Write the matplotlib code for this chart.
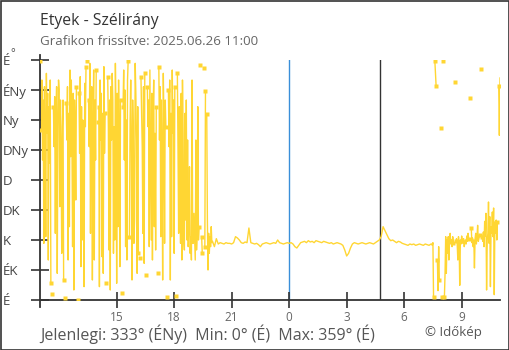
import numpy as np
import pandas as pd
import matplotlib
matplotlib.use('Agg')
import matplotlib.pyplot as plt
from matplotlib.patches import Rectangle

plt.rcParams['font.family'] = ['Open Sans', 'DejaVu Sans']

W, H = 510, 350

STATION = 'Etyek'
UPDATED = '2025.06.26 11:00'

DIR_NAMES = ['É', 'ÉK', 'K', 'DK', 'D', 'DNy', 'Ny', 'ÉNy', 'É']
DIR_DEG = [0, 45, 90, 135, 180, 225, 270, 315, 360]
HOUR_TICKS = [15, 18, 21, 0, 3, 6, 9]

# wind direction in degrees, None = no reading
# 2025.06.25 11:00 - 19:58, every 2 min
afternoon_deg = [
    358, None, 255, 330, 210, 300, 85, 320, 240, 95,
    340, 250, 310, 60, 290, 205, 330, 25, None, 9,
    None, 290, 230, 305, 100, 280, 320, 40, 260, 330,
    315, 140, 300, 220, 70, 260, 300, 30, None, 3,
    None, 295, 240, 320, 60, 280, 110, 345, 215, 330,
    240, 80, 310, 15, 300, 250, 150, 320, None, 0,
    None, 310, 220, 335, 50, 290, 90, 270, 200, 20,
    325, 260, 350, None, 358, None, 300, 230, 355, 100,
    275, 320, 30, 250, 345, 60, 300, 210, 345, None,
    267, None, 290, 20, 330, 240, 310, 65, 280, 40,
    350, 220, 280, None, 25, None, 335, 260, 75, 300,
    15, 320, 240, 340, 300, 70, 260, 90, 355, 280,
    25, 310, 110, 330, 230, 50, 300, None, 10, None,
    290, 345, 210, 315, 80, 270, 60, 330, 359, None,
    95, 270, 330, 220, 30, 300, 250, 85, 120, 355,
    310, 240, 40, 290, 70, None, 63, None, 335, 280,
    230, 100, 320, 55, 340, None, 37, None, 320, 260,
    300, 80, 345, 220, 90, 310, 60, 280, 330, 110,
    250, 75, 290, None, 40, None, 350, 240, 320, 95,
    300, 210, 30, 340, 260, 85, 300, 260, None, 5,
    None, 315, 230, 330, 30, 280, 95, 345, 250, 300,
    70, 320, None, 6, None, 340, 230, 100, 290, 210,
    85, 310, 60, 330, 250, 90, 75, 280, 120, 300,
    90, 240, 80, 110, 200, 70, 95, 60, 330, 85,
    85, 130, 95, 60, 240, 75, 100, 290, 90, 110,
    None, 352, None, 95, 70, None, 348, None, 80, 313,
    None, 279, 120, 45, 100, 70, 95, 80, 110, 86,
]
# 20:00 - 2025.06.26 07:24, every 6 min
night_deg = [
    88, 80, 92, 84, 86, 85, 84, 86, 85, 85,
    84, 86, 95, 93, 90, 86, 85, 87, 86, 108,
    86, 85, 84, 85, 83, 80, 84, 85, 86, 85,
    84, 85, 86, 85, 90, 86, 85, 84, 85, 86,
    85, 86, 84, 80, 78, 82, 86, 87, 88, 86,
    89, 87, 88, 86, 89, 88, 87, 86, 88, 87,
    86, 85, 86, 84, 85, 86, 85, 84, 82, 75,
    66, 70, 78, 84, 86, 85, 84, 85, 86, 85,
    84, 85, 86, 85, 84, 86, 88, 90, 95, 110,
    104, 98, 92, 89, 90, 88, 86, 88, 87, 85,
    84, 83, 82, 84, 83, 84, 82, 83, 84, 83,
    82, 84, 83, 82, 84,
]
# 07:26 - 11:00, every 2 min
morning_deg = [
    84, 82, 86, 4, None, 359, 340, 321, None, 60,
    14, 80, 30, None, 258, None, 5, None, 358, None,
    5, 40, 95, 40, 90, 70, 95, 60, 88, 100,
    84, 90, 80, 95, 86, None, 327, None, 88, 92,
    84, 60, 95, 86, 22, 90, 84, 96, 88, 85,
    92, 80, 86, 90, 84, 96, 88, 100, 92, None,
    303, None, 108, 86, 93, 80, 90, 48, 92, 100,
    84, 95, 112, 88, 92, 98, None, 347, None, 95,
    88, 102, 80, 118, 96, 130, 15, 90, 100, 147,
    85, 125, 20, 110, 100, 132, 95, 138, 8, 117,
    100, 120, 90, 117, None, 321, 247, 333,
]

MIDNIGHT = '2025-06-26 00:00'
SUNRISE = '2025-06-26 04:44'

YELLOW = '#ffd633'

times = pd.DatetimeIndex(np.concatenate([
    pd.date_range('2025-06-25 11:00', periods=len(afternoon_deg), freq='2min').values,
    pd.date_range('2025-06-25 20:00', periods=len(night_deg), freq='6min').values,
    pd.date_range('2025-06-26 07:26', periods=len(morning_deg), freq='2min').values,
]))
deg = np.array([np.nan if d is None else d for d in afternoon_deg + night_deg + morning_deg], dtype=float)

# readings next to a gap get a marker
ok = ~np.isnan(deg)
edge = ok & (~np.r_[True, ok[:-1]] | ~np.r_[ok[1:], True])


def dir_name(d):
    return DIR_NAMES[int(round(d / 45.0)) % 8]


fig = plt.figure(figsize=(W / 100, H / 100), dpi=100)
ax = fig.add_axes([40 / W, 1 - 300 / H, 460 / W, 240 / H])

ax.axvline(pd.Timestamp(MIDNIGHT), color='#3a8fd9', lw=1.0, zorder=1)
ax.axvline(pd.Timestamp(SUNRISE), color='#333333', lw=1.0, zorder=1)

ax.plot(times, deg, color=YELLOW, lw=1.0, zorder=2)
ax.plot(times[edge], deg[edge], 's', ms=3.0, color=YELLOW, mec='none', zorder=3)

ax.set_xlim(pd.Timestamp('2025-06-25 11:00'), pd.Timestamp('2025-06-26 11:00'))
ax.set_ylim(0, 360)

tick_times = [pd.Timestamp('2025-06-25' if h >= 11 else '2025-06-26') + pd.Timedelta(hours=h) for h in HOUR_TICKS]
ax.set_xticks(tick_times)
ax.set_xticklabels([str(h) for h in HOUR_TICKS])
ax.set_yticks(DIR_DEG)
ax.set_yticklabels(DIR_NAMES, ha='left')

ax.tick_params(axis='x', direction='inout', length=12, width=1.2, color='#333333',
               labelsize=8.5, labelcolor='#666666', pad=2)
ax.tick_params(axis='y', direction='inout', length=13, width=1.2, color='#333333',
               labelsize=9.5, labelcolor='#444444', pad=20)

for s in ['top', 'right']:
    ax.spines[s].set_visible(False)
for s in ['left', 'bottom']:
    ax.spines[s].set_color('#333333')
    ax.spines[s].set_linewidth(1.3)
ax.spines['left'].set_bounds(-10, 367)

fig.text(13 / W, 1 - 56.5 / H, '°', fontsize=8, color='#444444', ha='center', va='baseline')

fig.text(40 / W, 1 - 25 / H, STATION + ' - Szélirány', fontsize=11.3, color='#333333', va='baseline')
fig.text(40 / W, 1 - 45 / H, 'Grafikon frissítve: ' + UPDATED, fontsize=9.6, color='#666666', va='baseline')

now = deg[ok][-1]
lo, hi = np.nanmin(deg), np.nanmax(deg)
summary = 'Jelenlegi: %d° (%s)  Min: %d° (%s)  Max: %d° (%s)' % (
    now, dir_name(now), lo, dir_name(lo), hi, dir_name(hi))
fig.text(40 / W, 1 - 340 / H, summary, fontsize=11.5, color='#555555', va='baseline')
fig.text(425 / W, 1 - 336 / H, '© Időkép', fontsize=9.5, color='#555555', va='baseline')

fig.patches.append(Rectangle((0.5 / W, 0.5 / H), 1 - 1.5 / W, 1 - 1.5 / H, transform=fig.transFigure,
                             fill=False, ec='#333333', lw=1.2))

fig.savefig('out.png', dpi=100)
